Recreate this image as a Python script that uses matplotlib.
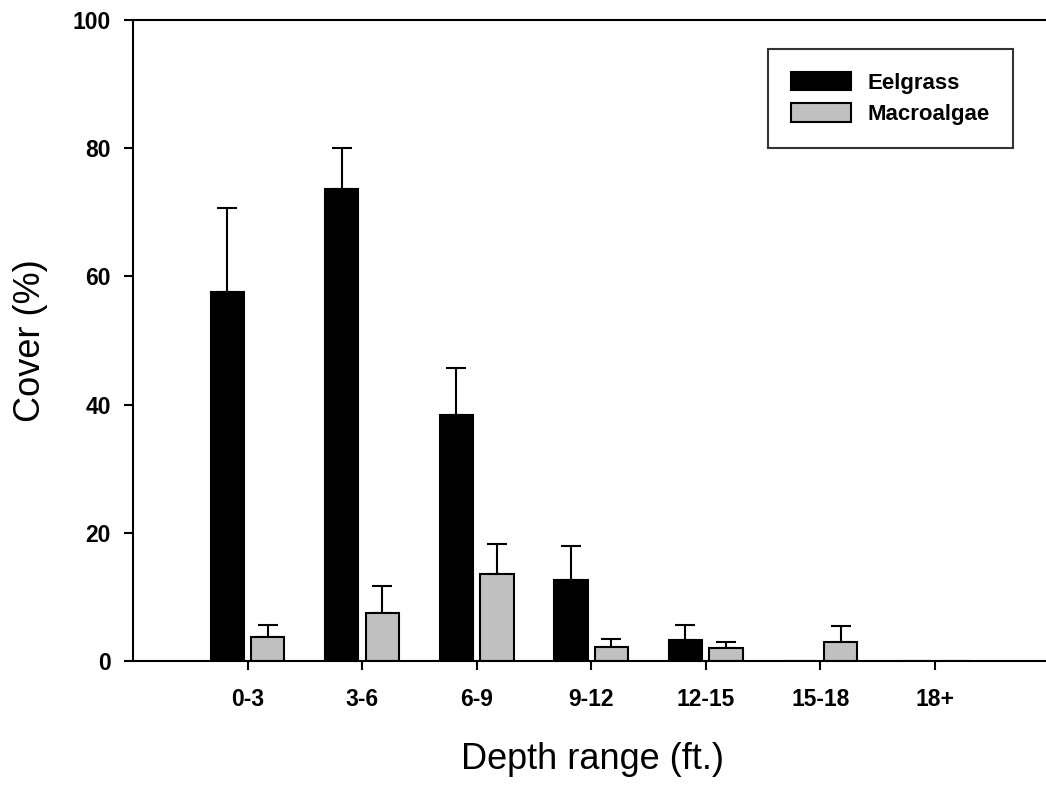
import matplotlib
matplotlib.use("Agg")
import matplotlib.pyplot as plt
import numpy as np

categories = ["0-3", "3-6", "6-9", "9-12", "12-15", "15-18", "18+"]
eelgrass = [57.6, 73.6, 38.4, 12.6, 3.3, 0.0, 0.0]
eelgrass_err = [13.1, 6.5, 7.3, 5.4, 2.3, 0.0, 0.0]
macroalgae = [3.7, 7.5, 13.5, 2.2, 2.1, 3.0, 0.0]
macroalgae_err = [1.9, 4.2, 4.8, 1.3, 0.9, 2.4, 0.0]
yticks = [0, 20, 40, 60, 80, 100]

plt.rcParams['font.family'] = ['Liberation Sans', 'DejaVu Sans']

W, H = 1046, 785
fig = plt.figure(figsize=(W / 100, H / 100), dpi=100)
left, right, top, bottom = 133, 1046, 20, 661
ax = fig.add_axes([left / W, 1 - bottom / H, (right - left) / W, (bottom - top) / H])

x = np.arange(len(categories))
bw = 0.29
off = 0.177
lw = 1.5

ax.bar(x - off, eelgrass, bw, color='black', edgecolor='black', linewidth=lw,
       label='Eelgrass', zorder=2)
ax.bar(x + off, macroalgae, bw, color='#c0c0c0', edgecolor='black', linewidth=lw,
       label='Macroalgae', zorder=2)

e = np.array(eelgrass); ee = np.array(eelgrass_err)
m = np.array(macroalgae); me = np.array(macroalgae_err)
mask_e = e > 0
mask_m = m > 0
ax.errorbar((x - off)[mask_e], e[mask_e], yerr=[np.zeros(mask_e.sum()), ee[mask_e]],
            fmt='none', ecolor='black', elinewidth=lw, capsize=7.5, capthick=lw, zorder=1)
ax.errorbar((x + off)[mask_m], m[mask_m], yerr=[np.zeros(mask_m.sum()), me[mask_m]],
            fmt='none', ecolor='black', elinewidth=lw, capsize=7.5, capthick=lw, zorder=1)

ax.set_xlim(-1.0, 6.97)
ax.set_ylim(0, 100)
ax.set_xticks(x)
ax.set_xticklabels(categories)
ax.set_yticks(yticks)
ax.set_yticklabels([str(v) for v in yticks])

for s in ['left', 'top', 'bottom']:
    ax.spines[s].set_linewidth(lw)
ax.spines['right'].set_visible(False)

ax.tick_params(axis='both', direction='out', length=6.5, width=lw, labelsize=16.5)
ax.tick_params(axis='x', pad=13)
ax.tick_params(axis='y', pad=9.5)
for lab in ax.get_xticklabels() + ax.get_yticklabels():
    lab.set_fontweight('bold')

ax.set_xlabel('Depth range (ft.)', fontsize=26)
ax.xaxis.set_label_coords(0.503, -0.154)
ax.xaxis.label.set_va('center')
ax.set_ylabel('Cover (%)', fontsize=26)
ax.yaxis.set_label_coords(-0.112, 0.5)
ax.yaxis.label.set_va('center')

leg = ax.legend(loc='upper right', bbox_to_anchor=((1013 - left) / (right - left), (bottom - 49) / (bottom - top)),
                prop={'weight': 'bold', 'size': 16}, frameon=True, fancybox=False,
                edgecolor='black', handlelength=2.7, handleheight=0.9, labelspacing=0.43,
                borderpad=1.03, borderaxespad=0, handletextpad=0.75)
leg.get_frame().set_linewidth(lw)

fig.savefig('out.png', dpi=100)
